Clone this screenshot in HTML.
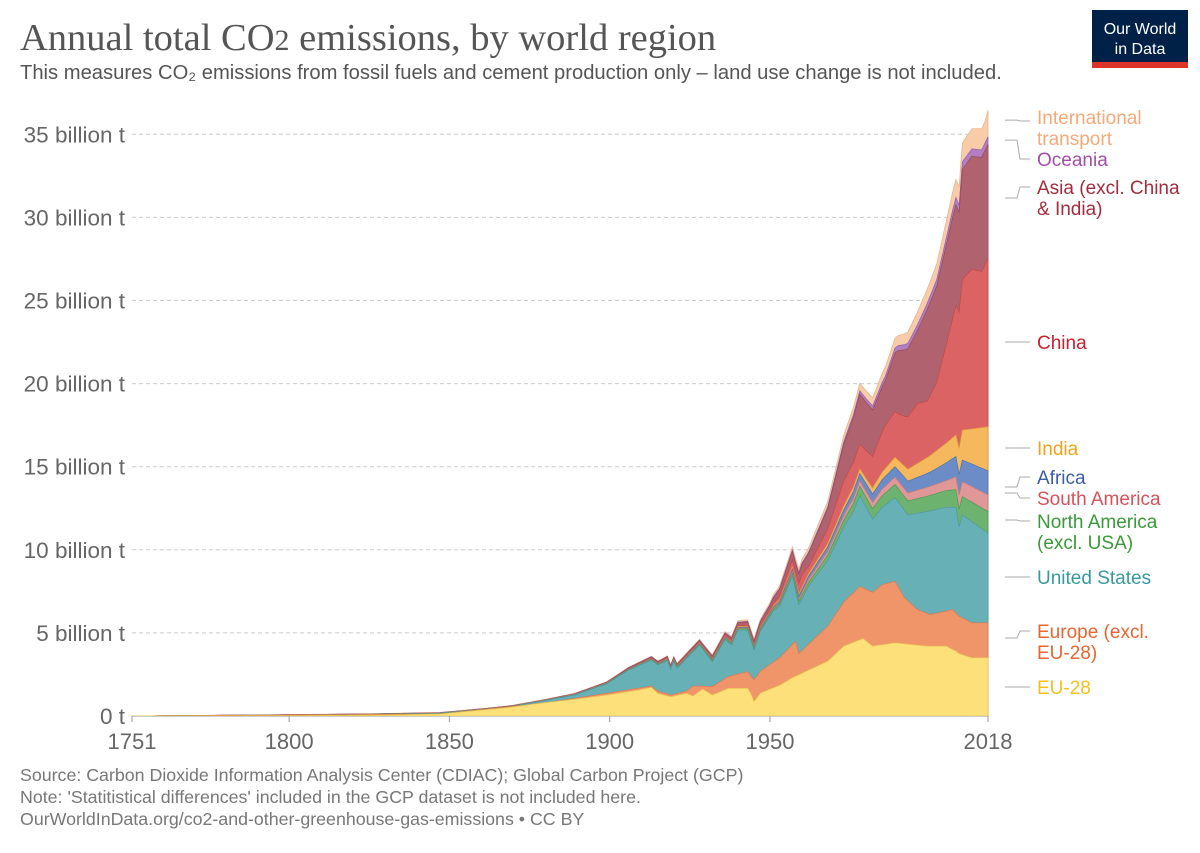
<!DOCTYPE html>
<html><head><meta charset="utf-8"><style>
body{margin:0;background:#fff;}
svg text{font-family:"Liberation Sans",sans-serif;}
</style></head><body>
<svg id="s" width="1200" height="848" xmlns="http://www.w3.org/2000/svg">
<text x="20" y="50" style="font-family:'Liberation Serif',serif;font-size:38.5px;fill:#555">Annual total CO<tspan style="font-size:30px">2</tspan> emissions, by world region</text>
<text x="20" y="79" style="font-size:20.2px;fill:#555">This measures CO₂ emissions from fossil fuels and cement production only – land use change is not included.</text>
<rect x="1092" y="10" width="96" height="58" fill="#002147"/>
<rect x="1092" y="62" width="96" height="6" fill="#dc3328"/>
<text x="1140" y="34" text-anchor="middle" style="font-size:16px;fill:#fff">Our World</text>
<text x="1140" y="54" text-anchor="middle" style="font-size:16px;fill:#fff">in Data</text>
<g id="grid"></g>
<g id="areas"></g>
<line x1="132" y1="716.5" x2="988" y2="716.5" stroke="#ccc"/>
<g id="xt"></g>
<g id="labels" style="font-size:19px"></g>
<text x="20" y="781" style="font-size:17.8px;fill:#777">Source: Carbon Dioxide Information Analysis Center (CDIAC); Global Carbon Project (GCP)</text>
<text x="20" y="803" style="font-size:17.8px;fill:#777">Note: 'Statitistical differences' included in the GCP dataset is not included here.</text>
<text x="20" y="825" style="font-size:17.8px;fill:#777">OurWorldInData.org/co2-and-other-greenhouse-gas-emissions • CC BY</text>
</svg>
<script>
var NS="http://www.w3.org/2000/svg";
function el(p,t,a,txt){var e=document.createElementNS(NS,t);for(var k in a)e.setAttribute(k,a[k]);if(txt!=null)e.textContent=txt;document.getElementById(p).appendChild(e);return e;}
function X(y){return 132+(y-1751)*3.206;}
function Y(v){return 716-v*16.62;}
for(var i=0;i<=7;i++){var yy=Y(i*5);
 if(i>0)el("grid","line",{x1:132,x2:988,y1:yy,y2:yy,stroke:"#ccc","stroke-dasharray":"4,3"});
 el("grid","text",{x:125,y:yy+8,"text-anchor":"end",style:"font-size:22.5px;fill:#666"},i==0?"0 t":(i*5)+" billion t");}
[1751,1800,1850,1900,1950,2018].forEach(function(y){var x=X(y);
 el("xt","line",{x1:x,x2:x,y1:716,y2:722,stroke:"#999"});
 el("xt","text",{x:x,y:749,"text-anchor":"middle",style:"font-size:22px;fill:#666"},y);});
function interp(k,y){for(var i=0;i<k.length-1;i++){if(y>=k[i][0]&&y<=k[i+1][0]){var t=(y-k[i][0])/(k[i+1][0]-k[i][0]);return k[i][1]+t*(k[i+1][1]-k[i][1]);}}return k[k.length-1][1];}
var B1=[[1751,0.003],[1800,0.02],[1830,0.06],[1847,0.12],[1868,0.5],[1878,0.76],[1889,1.0],[1899,1.26],[1909,1.56],[1913,1.72],[1915,1.36],[1919,1.16],[1924,1.36],[1926,1.2],[1929,1.62],[1932,1.26],[1937,1.66],[1943,1.66],[1944,1.36],[1945,0.86],[1947,1.38],[1953,1.85],[1957,2.3],[1968,3.3],[1973,4.2],[1979,4.66],[1982,4.2],[1989,4.4],[1999,4.2],[2005,4.2],[2008,3.9],[2009,3.75],[2013,3.5],[2018,3.5]];
var B2=[[1751,0.003],[1847,0.12],[1880,0.78],[1899,1.36],[1913,1.8],[1915,1.5],[1919,1.26],[1924,1.5],[1926,1.8],[1929,1.8],[1932,1.76],[1937,2.37],[1943,2.67],[1945,2.17],[1947,2.7],[1953,3.5],[1958,4.5],[1959,3.76],[1968,5.4],[1973,6.85],[1978,7.8],[1982,7.44],[1985,7.9],[1989,8.1],[1992,7.1],[1996,6.4],[2000,6.1],[2007,6.4],[2009,6.0],[2013,5.6],[2018,5.6]];
var B3=[[1751,0.003],[1800,0.025],[1847,0.16],[1868,0.52],[1878,0.86],[1889,1.26],[1899,1.93],[1906,2.77],[1913,3.37],[1915,3.07],[1918,3.35],[1919,2.8],[1920,3.3],[1921,2.87],[1928,4.27],[1932,3.27],[1936,4.6],[1938,4.27],[1940,5.17],[1943,5.17],[1945,3.97],[1947,5.1],[1951,6.3],[1953,6.6],[1957,8.4],[1959,6.7],[1962,7.8],[1968,9.35],[1973,11.37],[1976,12.3],[1978,13.27],[1982,11.84],[1985,12.56],[1989,13.15],[1993,12.1],[1999,12.3],[2005,12.56],[2008,12.56],[2009,11.37],[2010,12.1],[2018,11.0]];
var th=[
[[1751,0],[1880,0.005],[1900,0.02],[1930,0.05],[1950,0.1],[1960,0.2],[1973,0.4],[1978,0.55],[1990,0.8],[2005,1.0],[2010,1.1],[2018,1.3]],
[[1751,0],[1900,0.01],[1930,0.03],[1950,0.06],[1970,0.25],[1990,0.45],[2005,0.6],[2010,0.9],[2018,1.0]],
[[1751,0],[1900,0.01],[1930,0.03],[1950,0.06],[1970,0.3],[1990,0.65],[2000,0.85],[2010,1.3],[2018,1.45]],
[[1751,0],[1900,0.01],[1930,0.03],[1950,0.07],[1970,0.2],[1980,0.3],[1990,0.6],[2000,1.0],[2008,1.3],[2010,1.8],[2018,2.65]],
[[1751,0],[1900,0.01],[1930,0.03],[1950,0.08],[1958,0.5],[1960,0.8],[1962,0.45],[1968,0.9],[1973,1.5],[1978,1.5],[1982,1.9],[1986,2.6],[1990,2.8],[1992,3.0],[1996,3.6],[1999,3.4],[2002,4.1],[2008,7.8],[2009,8.2],[2010,9.1],[2013,9.6],[2016,9.4],[2018,10.1]],
[[1751,0],[1880,0.01],[1900,0.04],[1930,0.12],[1945,0.2],[1950,0.3],[1960,0.6],[1968,1.2],[1973,2.2],[1978,3.0],[1982,2.8],[1986,2.7],[1990,3.8],[1992,4.0],[1996,4.4],[1999,5.5],[2002,5.8],[2007,6.1],[2009,6.0],[2010,6.6],[2013,6.8],[2018,6.9]],
[[1751,0],[1900,0.01],[1950,0.04],[1970,0.13],[1990,0.3],[2010,0.45],[2018,0.45]],
[[1751,0],[1900,0.02],[1930,0.05],[1950,0.12],[1970,0.35],[1973,0.4],[1990,0.6],[2008,1.1],[2017,1.3],[2018,1.6]]];
var cols=["#fde07a","#f0956a","#67b0b6","#6db36f","#df9797","#6b8cc7","#f6b85c","#dc6363","#b0636e","#b27fc0","#f8cca8"];
var strokes=["#e8c550","#d97a50","#4f9aa0","#4f9a52","#c87a7a","#4f70ad","#e09c3a","#c44848","#964a56","#985fa8","#e8b088"];
var layers=[];for(var L=0;L<11;L++)layers.push([]);
for(var y=1751;y<=2018;y++){
 var c=[interp(B1,y)];
 c.push(Math.max(c[0],interp(B2,y)));
 c.push(Math.max(c[1],interp(B3,y)));
 for(var j=0;j<8;j++)c.push(c[c.length-1]+interp(th[j],y));
 for(var L=0;L<11;L++)layers[L].push(c[L]);
}
for(var L=10;L>=0;L--){
 var d="M"+X(1751)+","+Y(0);
 for(var i=0;i<layers[L].length;i++)d+=" L"+X(1751+i).toFixed(1)+","+Y(layers[L][i]).toFixed(1);
 d+=" L"+X(2018)+","+Y(0)+" Z";
 el("areas","path",{d:d,fill:cols[L],stroke:strokes[L],"stroke-width":0.7});
}
var labs=[
[["International","transport"],117,"#f4a978",0],[["Oceania"],159,"#a24ea8",0],[["Asia (excl. China","& India)"],187,"#a32d3c",0],
[["China"],342,"#c8202e",0],[["India"],448,"#f1a21a",0],[["Africa"],477,"#3b5da8",0],[["South America"],498,"#d6525a",0],
[["North America","(excl. USA)"],521,"#3a9a3a",0],[["United States"],577,"#37999f",0],[["Europe (excl.","EU-28)"],631,"#e76530",0],[["EU-28"],687,"#f2c21a",0]];
var srcY=[Y(layers[10][267]-0.6),Y(layers[9][267]-0.2),198,342,448,487,493,520,577,638,687];
labs.forEach(function(l,i){
 l[0].forEach(function(t,k){el("labels","text",{x:1037,y:l[1]+7+k*21,fill:l[2]},t);});
 var ly=l[1]+(i==0?4:0);
 el("labels","polyline",{points:"1005,"+srcY[i]+" 1017,"+srcY[i]+" 1020,"+ly+" 1030,"+ly,fill:"none",stroke:"#aaa","stroke-width":1});
});
</script>
</body></html>
